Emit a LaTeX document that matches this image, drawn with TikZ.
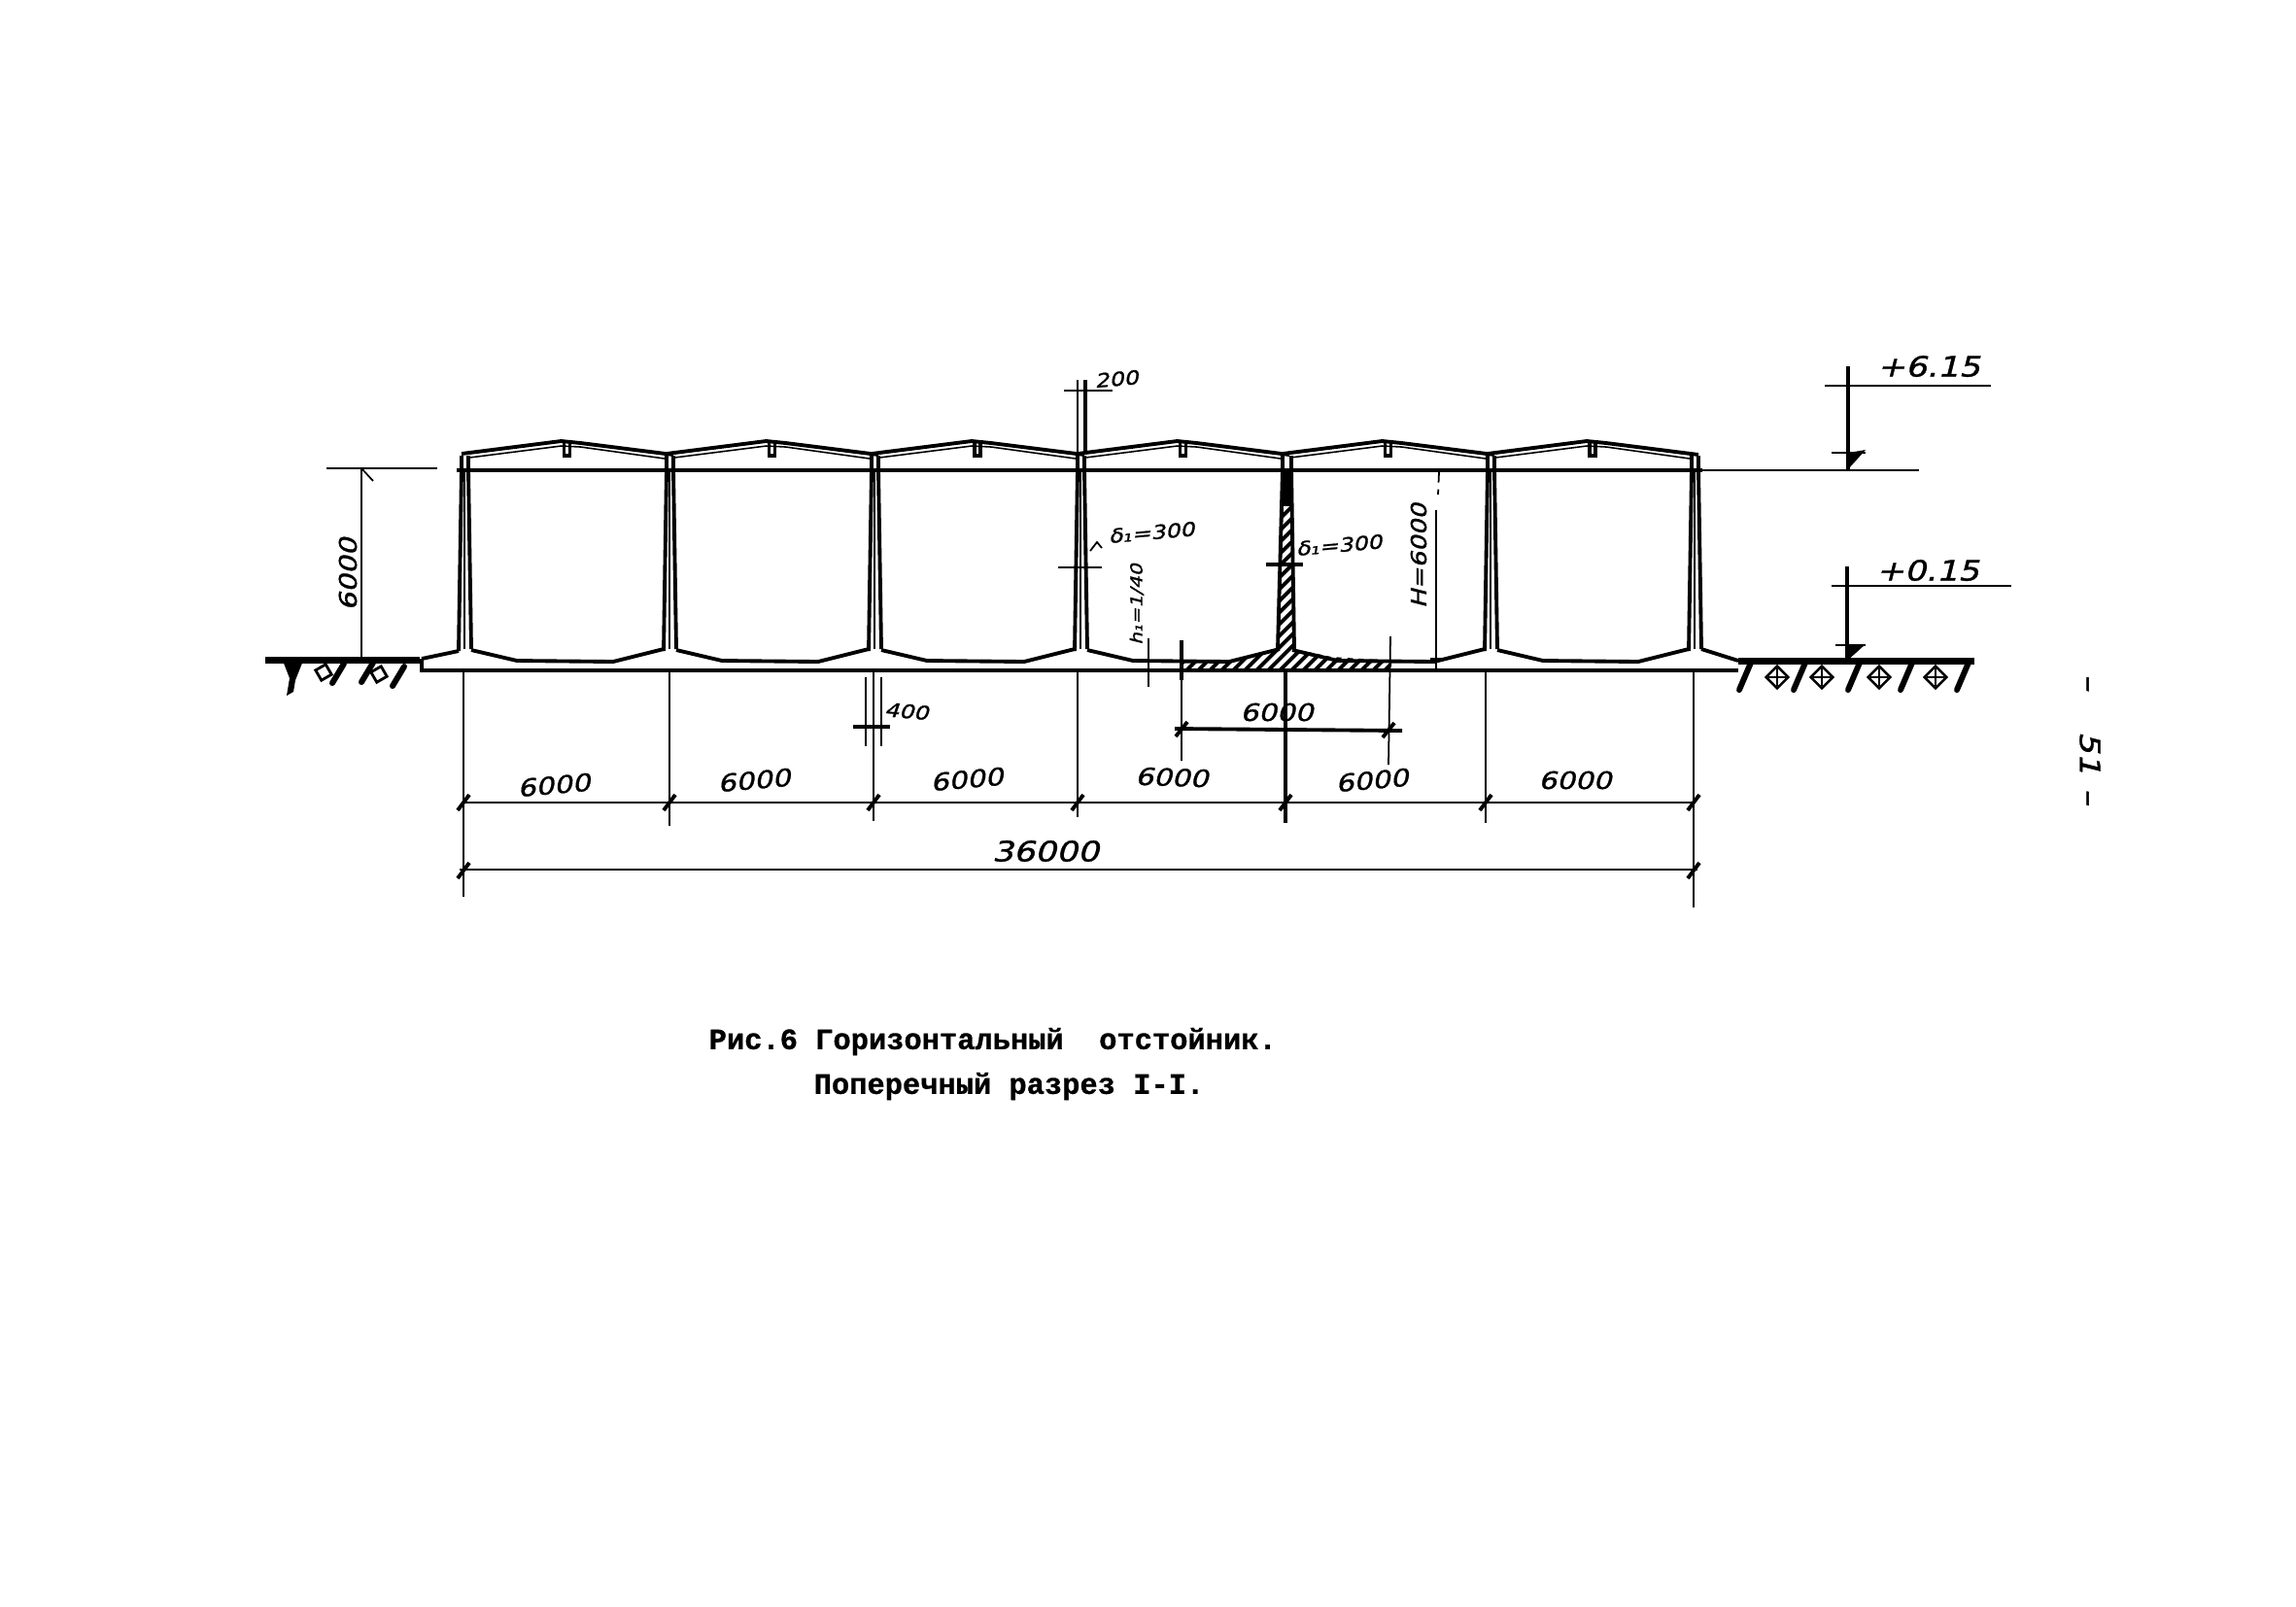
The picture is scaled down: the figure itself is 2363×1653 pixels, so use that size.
\documentclass[tikz,border=0pt]{standalone}
\usepackage{fontspec}
\newfontfamily\handfont{DejaVu Sans}[FakeSlant=0.25,FakeStretch=1.2,FakeBold=1.2]
\newfontfamily\typefont{Liberation Mono}[BoldFeatures={FakeBold=1}]
\tikzset{
  wallline/.style = {line width = 1.1pt},
  thinline/.style = {line width = 0.45pt},
  dimline/.style = {line width = 0.5pt},
  earthline/.style = {line width = 1.7pt, line cap = round},
  dimtext/.style = {inner sep = 0pt, font = \handfont\fontsize{7}{8}\selectfont},
  smalltext/.style = {inner sep = 0pt, font = \handfont\fontsize{5.6}{7}\selectfont},
  leveltext/.style = {inner sep = 0pt, font = \handfont\fontsize{8.2}{10}\selectfont},
  captext/.style = {inner sep = 0pt, anchor = west, font = \typefont\bfseries\fontsize{8.65}{10}\selectfont}
}
\begin{document}
\begin{tikzpicture}[x = 0.01cm, y = -0.01cm]
\useasboundingbox (0,0) rectangle (2363,1653);
% walls
\foreach \wx in {478, 689, 900, 1112, 1534, 1744} {
  \draw[wallline] (\wx-6,670) -- (\wx-3,484) -- (\wx-3,469);
  \draw[wallline] (\wx+7,668) -- (\wx+4,484) -- (\wx+4,469);
  \draw[thinline] (\wx,484) -- (\wx,668);
}
% roof and floor of every bay
\foreach \wa/\wb in {478/689, 689/900, 900/1112, 1112/1323, 1323/1534, 1534/1744} {
  \draw[wallline] (\wa-3,467) -- ({(\wa+\wb)/2-6},454) -- ({(\wa+\wb)/2+14},456) -- (\wb+4,468);
  \draw[thinline] (\wa+5,471) -- ({(\wa+\wb)/2-6},459) -- ({(\wa+\wb)/2+14},460) -- (\wb-5,472);
  \draw[wallline] ({(\wa+\wb)/2-3},456) -- ({(\wa+\wb)/2-3},469) -- ({(\wa+\wb)/2+3},469) -- ({(\wa+\wb)/2+3},456);
  \draw[wallline] (\wa+7,669) -- (\wa+54,680) -- (\wb-58,681) -- (\wb-6,668);
}
\draw[wallline] (470,484) -- (1752,484);
\draw[dimline] (1752,484) -- (1975,484);
% slab
\draw[wallline] (434,678) -- (472,670);
\draw[wallline] (434,678) -- (434,690) -- (1789,690);
\draw[wallline] (1751,668) -- (1789,680);
% hatched wall and footing
\begin{scope}
\clip (1218,680) -- (1276,680) -- (1315,668) -- (1320,490) -- (1329,490) -- (1332,668) -- (1370,676) -- (1432,680) -- (1432,690) -- (1218,690) -- cycle;
\foreach \hx in {1000, 1012, ..., 1440} {
  \draw[line width = 1.1pt] (\hx,695) -- (\hx+240,455);
}
\end{scope}
\fill (1318,486) rectangle (1330,521);
\draw[wallline] (1315,668) -- (1320,484) -- (1320,469);
\draw[wallline] (1332,668) -- (1329,484) -- (1329,469);
% ground
\draw[line width = 2pt] (273,679) -- (432,679);
\draw[line width = 2pt] (1789,680) -- (2032,680);
\fill (291,680) -- (312,680) -- (304,700) -- (302,712) -- (295,716) -- (298,698) -- cycle;
\foreach \ex/\ey in {348/703, 378/702, 410/706} {
  \draw[earthline] (\ex-6,\ey) -- (\ex+6,\ey-20);
}
\foreach \ex/\ey in {333/692, 390/694} {
  \draw[line width = 0.8pt, rotate around = {30:(\ex,\ey)}] (\ex-6,\ey-6) rectangle (\ex+6,\ey+6);
}
\foreach \ex in {1794, 1850, 1906, 1960, 2018} {
  \draw[earthline] (\ex+8,682) -- (\ex-4,710);
}
\foreach \ex in {1829, 1875, 1934, 1992} {
  \draw[line width = 0.7pt, rotate around = {45:(\ex,697)}] (\ex-8,689) rectangle (\ex+8,705);
  \draw[thinline] (\ex-9,697) -- (\ex+9,697) (\ex,688) -- (\ex,706);
}
% dimension lines below
\foreach \wx/\wy in {477/923, 689/850, 899/845, 1109/841, 1529/847, 1743/934} {
  \draw[dimline] (\wx,690) -- (\wx,\wy);
}
\draw[dimline] (477,826) -- (1745,826);
\draw[dimline] (473,895) -- (1747,895);
\foreach \tx in {477, 689, 899, 1109, 1323, 1529, 1743} {
  \draw[wallline] (\tx-6,834) -- (\tx+6,818);
}
\draw[wallline] (471,904) -- (483,888);
\draw[wallline] (1737,904) -- (1749,888);
\node[dimtext, rotate = 5] (widthA) at (570,808) {6000};
\node[dimtext, rotate = 5] (widthB) at (776,803) {6000};
\node[dimtext, rotate = 5] (widthC) at (995,802) {6000};
\node[dimtext, rotate = -2] (widthD) at (1206,800) {6000};
\node[dimtext, rotate = 5] (widthE) at (1412,803) {6000};
\node[dimtext] (widthF) at (1621,803) {6000};
\node[leveltext] (widthAll) at (1076,876) {36000};
% wall height on the left
\draw[dimline] (372,482) -- (372,678);
\draw[dimline] (336,482) -- (450,482);
\draw[dimline] (372,482) -- (384,495);
\node[dimtext, rotate = 90] (heightA) at (358,591) {6000};
% wall at the top, 200
\draw[dimline] (1109,391) -- (1109,467);
\draw[wallline] (1117,391) -- (1117,467);
\draw[dimline] (1095,402) -- (1145,402);
\node[smalltext, rotate = 5] (topWidth) at (1149,390) {200};
% wall at the bottom, 400
\draw[dimline] (891,697) -- (891,768);
\draw[dimline] (907,697) -- (907,768);
\draw[wallline] (878,748) -- (916,748);
\node[smalltext, rotate = -5] (baseWidth) at (933,732) {400};
% thickness of the wall
\draw[dimline] (1089,584) -- (1134,584);
\draw[dimline] (1122,567) -- (1129,558) -- (1134,564);
\node[smalltext, rotate = 5] (wallA) at (1185,548) {δ₁=300};
\draw[wallline] (1303,581) -- (1341,581);
\node[smalltext, rotate = 5] (wallB) at (1378,561) {δ₁=300};
% slope of the floor
\draw[dimline] (1182,657) -- (1182,707);
\node[smalltext, rotate = 90, font = \handfont\fontsize{4.8}{6}\selectfont] (slopeA) at (1170,622) {h₁=1/40};
% span of the hatching
\draw[wallline] (1216,659) -- (1216,700);
\draw[dimline] (1216,700) -- (1216,783);
\draw[dimline] (1431,655) -- (1429,787);
\draw[wallline] (1209,750) -- (1443,752);
\draw[wallline] (1210,758) -- (1222,743);
\draw[wallline] (1423,759) -- (1435,744);
\draw[wallline] (1323,690) -- (1323,847);
\node[dimtext] (spanA) at (1314,733) {6000};
% height inside
\draw[dimline, densely dashed] (1481,486) -- (1480,509);
\draw[dimline] (1478,525) -- (1478,689);
\draw[dimline] (1472,678) -- (1484,678);
\node[smalltext, rotate = 90, font = \handfont\fontsize{6.2}{7}\selectfont] (heightB) at (1460,572) {H=6000};
% levels on the right
\draw[dimline] (1878,397) -- (2049,397);
\draw[wallline] (1902,377) -- (1902,483);
\draw[dimline] (1885,466) -- (1920,466);
\fill (1902,483) -- (1902,466) -- (1920,463) -- cycle;
\node[leveltext] (levelTop) at (1985,377) {+6.15};
\draw[dimline] (1885,603) -- (2070,603);
\draw[wallline] (1901,583) -- (1901,680);
\draw[dimline] (1889,664) -- (1920,664);
\fill (1901,680) -- (1901,664) -- (1920,663) -- cycle;
\node[leveltext] (levelLow) at (1984,587) {+0.15};
% page number and caption
\node[leveltext, rotate = -90] (pageNo) at (2151,761) {–\hspace{12pt}51\hspace{4pt}–};
\node[captext] (capA) at (729,1072) {Рис.6 Горизонтальный\ \ отстойник.};
\node[captext] (capB) at (837,1118) {Поперечный разрез I-I.};
\end{tikzpicture}
\end{document}
